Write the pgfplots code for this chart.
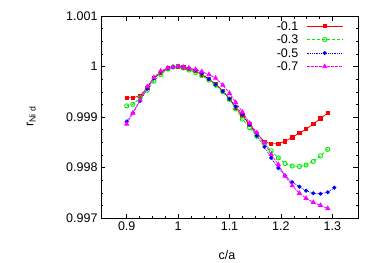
\documentclass[border=0pt]{standalone}
\usepackage{pgfplots}
\pgfplotsset{compat=1.18}
\usepackage{pgfplotstable}
\usepackage{fontspec}
\setmainfont{Liberation Sans}
\definecolor{gred}{RGB}{255,0,0}
\definecolor{ggreen}{RGB}{0,235,0}
\definecolor{gblue}{RGB}{0,0,255}
\definecolor{gmag}{RGB}{255,0,255}

\pgfplotstableread{
x y
0.900 0.99938
0.912 0.99938
0.926 0.99942
0.940 0.99958
0.953 0.99977
0.966 0.99987
0.980 0.99996
0.990 0.99999
1.000 1.00000
1.010 0.99998
1.021 0.99995
1.034 0.99991
1.046 0.99984
1.060 0.99975
1.073 0.99965
1.087 0.99952
1.100 0.99936
1.112 0.99918
1.125 0.99903
1.139 0.99885
1.153 0.99867
1.168 0.99851
1.181 0.99847
1.195 0.99847
1.208 0.99852
1.222 0.99860
1.236 0.99868
1.249 0.99876
1.263 0.99886
1.277 0.99897
1.291 0.99908
}\redtab

\pgfplotstableread{
x y
0.900 0.99922
0.912 0.99925
0.926 0.99938
0.940 0.99953
0.953 0.99971
0.966 0.99984
0.980 0.99995
0.990 0.99999
1.000 1.00000
1.010 0.99997
1.021 0.99993
1.034 0.99988
1.046 0.99982
1.060 0.99973
1.073 0.99963
1.087 0.99950
1.100 0.99935
1.112 0.99916
1.125 0.99896
1.139 0.99879
1.153 0.99862
1.168 0.99848
1.181 0.99833
1.195 0.99819
1.208 0.99808
1.222 0.99803
1.236 0.99802
1.249 0.99805
1.263 0.99812
1.277 0.99823
1.291 0.99836
}\greentab

\pgfplotstableread{
x y
0.900 0.99891
0.912 0.99908
0.926 0.99932
0.940 0.99956
0.953 0.99976
0.966 0.99990
0.980 0.99997
0.990 0.99999
1.000 1.00000
1.010 0.99999
1.021 0.99997
1.034 0.99993
1.046 0.99986
1.060 0.99975
1.073 0.99964
1.087 0.99951
1.100 0.99936
1.112 0.99921
1.125 0.99905
1.139 0.99885
1.153 0.99863
1.168 0.99841
1.181 0.99819
1.195 0.99799
1.208 0.99784
1.222 0.99771
1.236 0.99762
1.249 0.99754
1.263 0.99749
1.277 0.99748
1.291 0.99751
1.304 0.99760
}\bluetab

\pgfplotstableread{
x y
0.900 0.99886
0.912 0.99908
0.926 0.99934
0.940 0.99960
0.953 0.99978
0.966 0.99991
0.980 0.99997
0.990 0.99999
1.000 1.00000
1.010 0.99999
1.021 0.99997
1.034 0.99994
1.046 0.99990
1.060 0.99984
1.073 0.99977
1.087 0.99963
1.100 0.99947
1.112 0.99929
1.125 0.99910
1.139 0.99888
1.153 0.99869
1.168 0.99849
1.181 0.99826
1.195 0.99806
1.208 0.99783
1.222 0.99764
1.236 0.99749
1.249 0.99739
1.263 0.99731
1.277 0.99725
1.291 0.99719
}\magtab

\begin{document}
\begin{tikzpicture}
\useasboundingbox (-101pt,-44pt) rectangle (273pt,218pt);
\begin{axis}[
  at={(0pt,0pt)}, anchor=south west,
  scale only axis, width=257pt, height=202pt,
  xmin=0.85, xmax=1.35, ymin=0.997, ymax=1.001,
  xtick={0.9,1,1.1,1.2,1.3}, xticklabels={0.9,1,1.1,1.2,1.3},
  ytick={0.997,0.998,0.999,1,1.001}, yticklabels={0.997,0.998,0.999,1,1.001},
  minor tick num=3,
  tick align=inside,
  major tick length=4.5pt, minor tick length=2.5pt,
  tick style={black, line width=0.5pt},
  axis line style={line width=0.6pt},
  font=\fontsize{12.5}{15}\selectfont,
  tick label style={font=\fontsize{12.5}{15}\selectfont},
  /pgf/number format/assume math mode=true,
  xlabel={c/a},
  ylabel={r\textsubscript{Ni d}},
  xlabel style={at={(axis description cs:0.49,-0.183)}, anchor=center},
  ylabel style={at={(axis description cs:-0.272,0.502)}, anchor=center},
  legend plot pos=right,
  legend cell align=right,
  legend style={draw=none, fill=none, at={(axis description cs:0.942,0.975)}, anchor=north east,
    inner sep=0pt, outer sep=0pt, row sep=3.5pt, column sep=8pt,
    nodes={inner sep=0pt, text height=9pt, text depth=1pt},
    font=\fontsize{12.5}{15}\selectfont},
  legend image code/.code={\draw[mark repeat=2,mark phase=2,#1] plot coordinates {(0pt,0pt) (18pt,0pt) (36pt,0pt)};},
]
\addplot[gred, line width=0.8pt, mark=square*, mark size=1.7pt, mark options={solid}] table[x=x,y=y] {\redtab};
\addlegendentry{-0.1}
\addplot[ggreen, line width=0.8pt, densely dashed, mark=o, mark size=2.1pt, mark options={solid, line width=0.9pt}] table[x=x,y=y] {\greentab};
\addlegendentry{-0.3}
\addplot[gblue, line width=0.8pt, densely dotted, mark=*, mark size=1.6pt, mark options={solid}] table[x=x,y=y] {\bluetab};
\addlegendentry{-0.5}
\addplot[gmag, line width=0.8pt, dash pattern=on 3pt off 1pt, mark=triangle*, mark size=2.3pt, mark options={solid}] table[x=x,y=y] {\magtab};
\addlegendentry{-0.7}
\end{axis}
\end{tikzpicture}
\end{document}
